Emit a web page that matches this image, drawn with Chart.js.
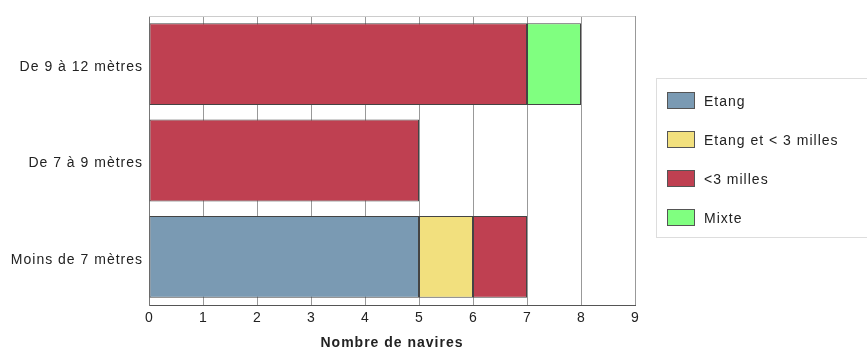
<!DOCTYPE html>
<html>
<head>
<meta charset="utf-8">
<script src="https://cdn.jsdelivr.net/npm/chart.js@4"></script>
<style>
  body{margin:0;background:#fff;font-family:"Liberation Sans",Arial,sans-serif;}
  #wrap{position:relative;width:867px;height:356px;}
  #legend{position:absolute;left:656px;top:78px;width:211px;height:160px;border:1px solid #ddd;border-right:none;box-sizing:border-box;}
  .item{position:absolute;left:10px;height:18px;font-size:14px;letter-spacing:1px;color:#222;line-height:18px;}
  .sw{display:inline-block;width:28px;height:17px;border:1px solid #555;box-sizing:border-box;vertical-align:top;margin-top:0px;margin-right:9px;}
</style>
</head>
<body>
<div id="wrap">
  <canvas id="c" width="867" height="356"></canvas>
  <div id="legend"></div>
</div>
<script>
const categories=["De 9 à 12 mètres","De 7 à 9 mètres","Moins de 7 mètres"];
const seriesNames=["Etang","Etang et < 3 milles","<3 milles","Mixte"];
const seriesColors=["#7a9ab3","#f2e07e","#bf4051","#80ff80"];
const etang=[0,0,5];
const etangMilles=[0,0,1];
const milles=[7,5,1];
const mixte=[1,0,0];
const xTicks=[0,1,2,3,4,5,6,7,8,9];
const values=[etang,etangMilles,milles,mixte];

const datasets=values.map((v,i)=>({
  label:seriesNames[i],
  data:v,
  backgroundColor:seriesColors[i],
  borderColor:"#444",
  borderWidth:c=>c.raw?1:0,
  borderSkipped:false,
  barPercentage:0.85,
  categoryPercentage:1
}));

// light top edge of the plot + wider letter spacing like the original
const frame={
  id:"frame",
  beforeDraw(chart){ chart.ctx.letterSpacing="1px"; },
  beforeDatasetsDraw(chart){
    const a=chart.chartArea, g=chart.ctx;
    g.save();
    g.strokeStyle="#ccc"; g.lineWidth=1;
    g.beginPath(); g.moveTo(a.left,a.top+0.5); g.lineTo(a.right,a.top+0.5); g.stroke();
    g.restore();
  }
};

new Chart(document.getElementById("c"),{
  type:"bar",
  data:{labels:categories,datasets:datasets},
  plugins:[frame],
  options:{
    indexAxis:"y",
    responsive:false,
    animation:false,
    layout:{padding:{left:0,right:232,top:16,bottom:0}},
    plugins:{legend:{display:false},tooltip:{enabled:false}},
    scales:{
      x:{
        stacked:true,min:0,max:9,
        afterBuildTicks(s){s.ticks=xTicks.map(v=>({value:v}));},
        afterFit(s){s.height=51;},
        grid:{color:"#999",lineWidth:1,tickLength:0,drawOnChartArea:true},
        border:{color:"#555"},
        ticks:{color:"#222",font:{size:14,family:"Liberation Sans"},padding:5,labelOffset:0.5},
        title:{display:true,text:"Nombre de navires",color:"#222",font:{size:14,weight:"bold",family:"Liberation Sans"},padding:{top:14}}
      },
      y:{
        stacked:true,
        afterFit(s){s.width=149;},
        grid:{display:false,drawTicks:false,tickLength:0},
        border:{color:"#777"},
        ticks:{color:"#222",font:{size:14,family:"Liberation Sans"},padding:6,labelOffset:3}
      }
    }
  }
});

const lg=document.getElementById("legend");
seriesNames.forEach((n,i)=>{
  const d=document.createElement("div");
  d.className="item";
  d.style.top=(13+i*39)+"px";
  d.innerHTML=`<span class="sw" style="background:${seriesColors[i]}"></span>${n.replace("<","&lt;")}`;
  lg.appendChild(d);
});
</script>
</body>
</html>
